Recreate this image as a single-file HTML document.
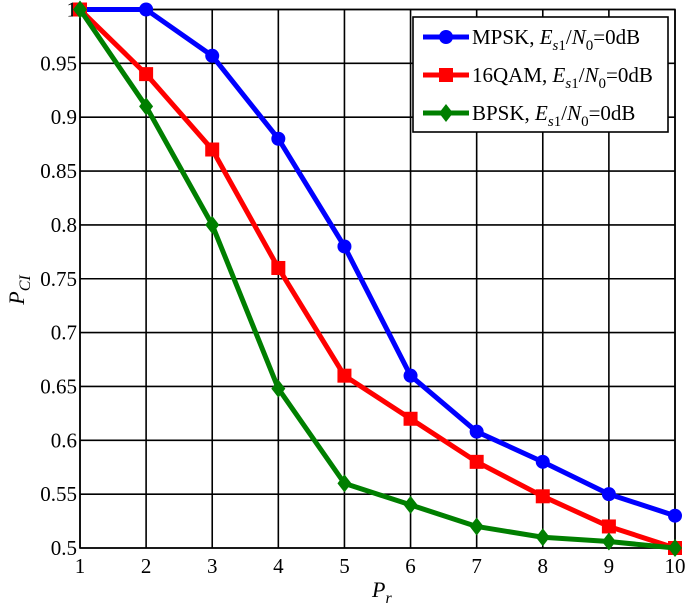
<!DOCTYPE html>
<html><head><meta charset="utf-8"><style>
body{margin:0;background:#fff}
svg{display:block}
svg text{font-family:"Liberation Serif","Times New Roman",serif}
</style></head><body>
<svg id="c" width="685" height="608" font-family="Liberation Serif, serif"></svg>
<script>
const categories=[1,2,3,4,5,6,7,8,9,10];
const mpsk=[1,1,0.957,0.88,0.78,0.66,0.608,0.58,0.55,0.53];
const qam16=[1,0.94,0.87,0.76,0.66,0.62,0.58,0.548,0.52,0.5];
const bpsk=[1,0.91,0.80,0.648,0.56,0.54,0.52,0.51,0.506,0.5];
const yTicks=[0.5,0.55,0.6,0.65,0.7,0.75,0.8,0.85,0.9,0.95,1];
const yTickLabels=["0.5","0.55","0.6","0.65","0.7","0.75","0.8","0.85","0.9","0.95","1"];
const NS="http://www.w3.org/2000/svg";
const svg=document.getElementById('c');
const L=80,R=675,T=9.5,B=548;
const xs=v=>L+(v-1)/9*(R-L);
const ys=v=>B-(v-0.5)/0.5*(B-T);
function mk(t,a,p){const e=document.createElementNS(NS,t);for(const k in a)e.setAttribute(k,a[k]);if(t==='text')e.setAttribute('font-family','Liberation Serif, serif');(p||svg).appendChild(e);return e;}
const grid=mk('g',{});


categories.forEach(c=>{mk('line',{x1:xs(c),x2:xs(c),y1:T,y2:B,stroke:'#000','stroke-width':1.6},grid);
const t=mk('text',{x:xs(c),y:B+25,'text-anchor':'middle','font-size':21});t.textContent=c;

});
yTicks.forEach((v,i)=>{mk('line',{x1:L,x2:R,y1:ys(v),y2:ys(v),stroke:'#000','stroke-width':1.6},grid);
const t=mk('text',{x:L-3,y:ys(v)+7,'text-anchor':'end','font-size':21});t.textContent=yTickLabels[i];

});
mk('rect',{x:L,y:T,width:R-L,height:B-T,fill:'none',stroke:'#000','stroke-width':1.6});
function marker(type,x,y,col,g){
 if(type==='c')return mk('circle',{cx:x,cy:y,r:7,fill:col},g);
 if(type==='s')return mk('rect',{x:x-7,y:y-7,width:14,height:14,fill:col},g);
 return mk('polygon',{points:`${x},${y-9} ${x+7},${y} ${x},${y+9} ${x-7},${y}`,fill:col},g);
}
function series(vals,col,type,name){
 const g=mk('g',{});
 
 
 mk('polyline',{points:vals.map((v,i)=>xs(categories[i])+','+ys(v)).join(' '),fill:'none',stroke:col,'stroke-width':5,'stroke-linejoin':'round'},g);
 vals.forEach((v,i)=>{const m=marker(type,xs(categories[i]),ys(v),col,g);
 
 });
}
series(mpsk,'#0000ff','c','mpsk-series');
series(qam16,'#ff0000','s','16qam-series');
series(bpsk,'#007f00','d','bpsk-series');
const lg=mk('g',{});


mk('rect',{x:413,y:17,width:255,height:115,fill:'#fff',stroke:'#000','stroke-width':1.6},lg);
const items=[['MPSK','#0000ff','c'],['16QAM','#ff0000','s'],['BPSK','#007f00','d']];
items.forEach((it,i)=>{const y=37+i*38;
 mk('line',{x1:423,x2:469,y1:y,y2:y,stroke:it[1],'stroke-width':5},lg);
 marker(it[2],446,y,it[1],lg);
 const t=mk('text',{x:472,y:y+7,'font-size':21},lg);
 
 
 t.innerHTML=it[0]+', <tspan font-style="italic">E</tspan><tspan font-style="italic" font-size="15" dy="6">s</tspan><tspan font-size="15">1</tspan><tspan dy="-6">/</tspan><tspan font-style="italic">N</tspan><tspan font-size="15" dy="6">0</tspan><tspan dy="-6">=0dB</tspan>';
});
const xl=mk('text',{x:372,y:597,'font-size':22,'font-style':'italic'});
xl.innerHTML='P<tspan font-size="16" dy="6">r</tspan>';


const yl=mk('text',{transform:'translate(24,290) rotate(-90)','font-size':22,'font-style':'italic','text-anchor':'middle'});
yl.innerHTML='P<tspan font-size="16" dy="6">CI</tspan>';


</script>
</body></html>
